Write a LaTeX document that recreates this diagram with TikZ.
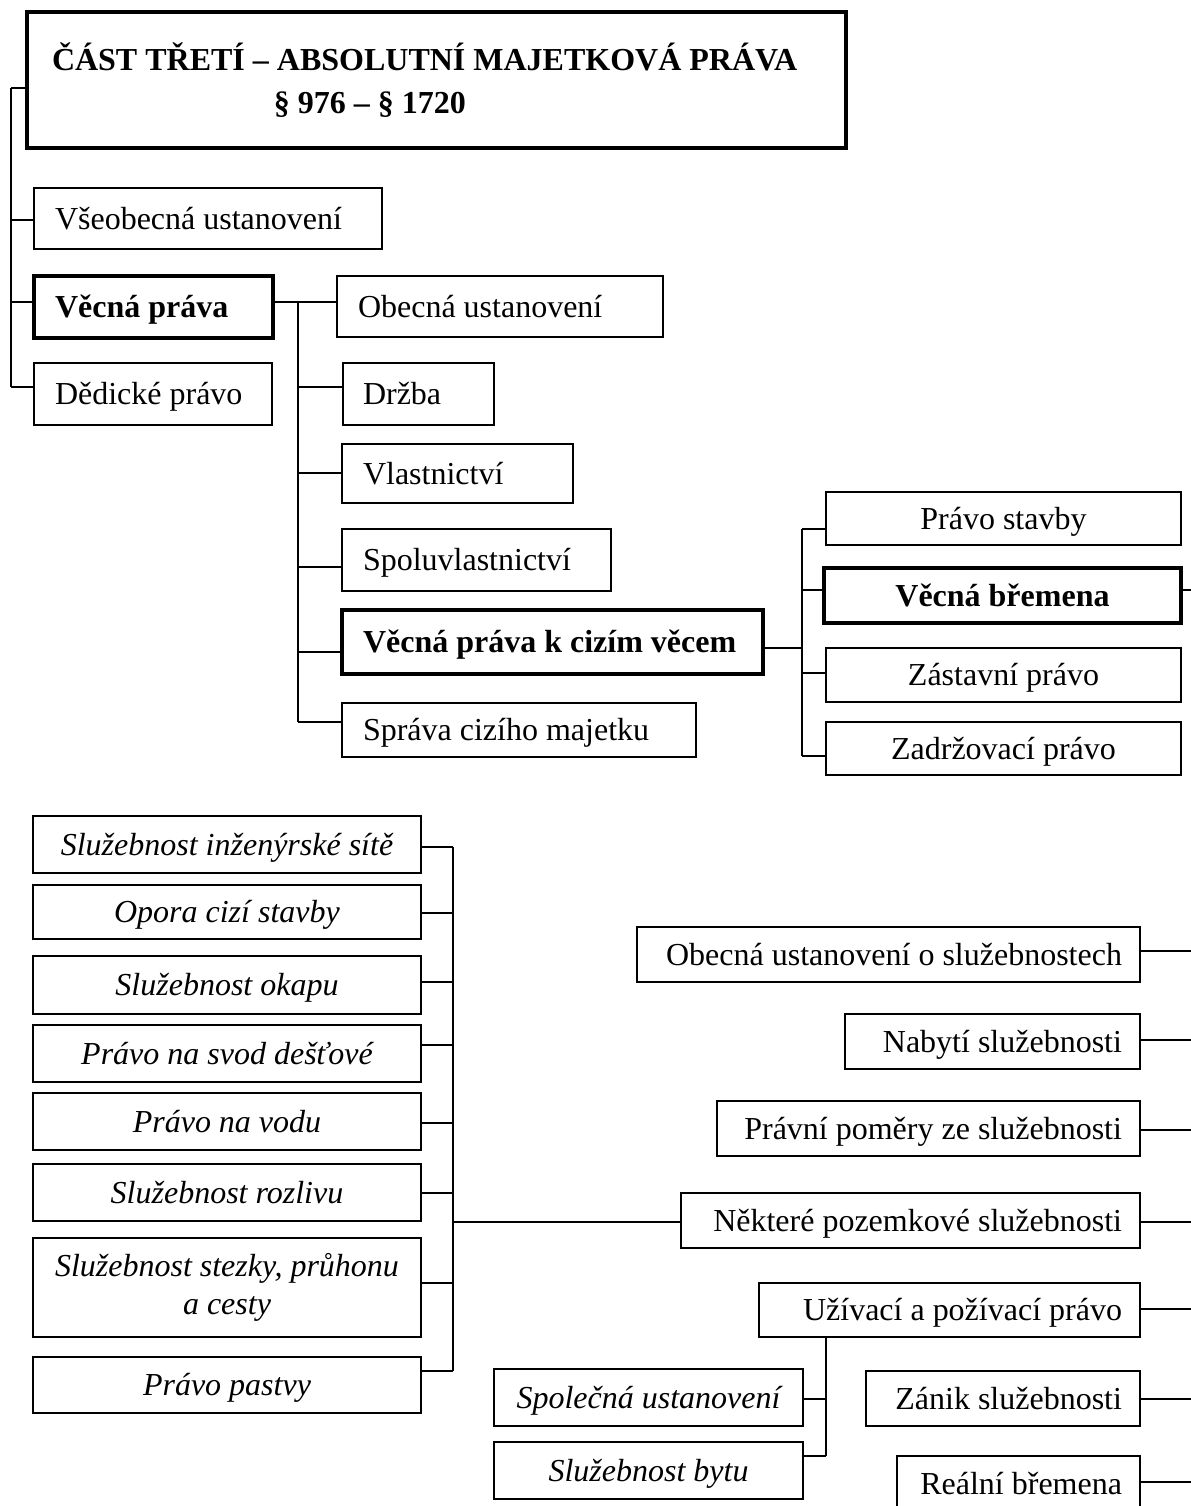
\documentclass[tikz,border=0pt]{standalone}
\usepackage{fontspec}
\setmainfont{Liberation Serif}
\newcommand\mybox[8]{%
  \pgfmathsetmacro\bw{(#4-#2)*0.5}%
  \pgfmathsetmacro\bh{(#5-#3)*0.5}%
  \pgfmathsetmacro\tw{\bw-2*#7}%
  \node[#6, minimum width=\bw pt, minimum height=\bh pt, inner xsep=#7pt, text width=\tw pt] (#1) at ({(#2+#4)/2},{(#3+#5)/2}) {#8};}
\tikzset{
  base/.style={draw, line width=0.85pt, inner ysep=1pt, font=\fontsize{16}{19}\selectfont, text height=14pt, text depth=3.5pt},
  lbox/.style={base, align=flush left},
  cbox/.style={base, align=flush center},
  rbox/.style={base, align=flush right},
  ibox/.style={cbox, font=\fontsize{16}{19}\selectfont\itshape},
  heavy/.style={line width=1.7pt, font=\fontsize{16}{19}\selectfont\bfseries},
  multi/.style={text height={}, text depth={}},
  titlebox/.style={draw, line width=2.2pt, align=flush left, inner ysep=2pt, font=\fontsize{16}{21.5}\selectfont\bfseries},
  wire/.style={line width=0.85pt},
}
\begin{document}
\begin{tikzpicture}[x=0.5pt,y=-0.5pt]
\useasboundingbox (0,0) rectangle (1190,1506);
\fill[white] (0,0) rectangle (1190,1506);

% ---- boxes
\mybox{title}{27}{12}{846}{148}{titlebox}{12.5}{ČÁST TŘETÍ – ABSOLUTNÍ MAJETKOVÁ PRÁVA\\\hspace*{111pt}§ 976 – § 1720}
\mybox{vseob}{34}{188}{382}{249}{lbox}{10.5}{Všeobecná ustanovení}
\mybox{vp}{34}{276}{273}{338}{lbox,heavy}{10.5}{Věcná práva}
\mybox{ded}{34}{363}{272}{425}{lbox}{10.5}{Dědické právo}
\mybox{obec}{337}{276}{663}{337}{lbox}{10.5}{Obecná ustanovení}
\mybox{drz}{343}{363}{494}{425}{lbox}{10}{Držba}
\mybox{vlast}{342}{444}{573}{503}{lbox}{10.5}{Vlastnictví}
\mybox{spol}{342}{529}{611}{591}{lbox}{10.5}{Spoluvlastnictví}
\mybox{vpc}{342}{610}{763}{674}{lbox,heavy}{10.5}{Věcná práva k cizím věcem}
\mybox{spr}{342}{703}{696}{757}{lbox}{10.5}{Správa cizího majetku}
\mybox{pst}{826}{492}{1181}{545}{cbox}{4}{Právo stavby}
\mybox{vb}{824}{568}{1181}{623}{cbox,heavy}{4}{Věcná břemena}
\mybox{zast}{826}{648}{1181}{702}{cbox}{4}{Zástavní právo}
\mybox{zadr}{826}{722}{1181}{775}{cbox}{4}{Zadržovací právo}

\mybox{s1}{33}{816}{421}{873}{ibox}{4}{Služebnost inženýrské sítě}
\mybox{s2}{33}{885}{421}{939}{ibox}{4}{Opora cizí stavby}
\mybox{s3}{33}{956}{421}{1014}{ibox}{4}{Služebnost okapu}
\mybox{s4}{33}{1025}{421}{1082}{ibox}{4}{Právo na svod dešťové}
\mybox{s5}{33}{1093}{421}{1150}{ibox}{4}{Právo na vodu}
\mybox{s6}{33}{1164}{421}{1221}{ibox}{4}{Služebnost rozlivu}
\mybox{s7}{33}{1238}{421}{1337}{ibox,multi}{4}{Služebnost stezky, průhonu\\a cesty}
\mybox{s8}{33}{1357}{421}{1413}{ibox}{4}{Právo pastvy}

\mybox{r1}{637}{927}{1140}{982}{rbox}{9}{Obecná ustanovení o služebnostech}
\mybox{r2}{845}{1014}{1140}{1069}{rbox}{9}{Nabytí služebnosti}
\mybox{r3}{717}{1101}{1140}{1156}{rbox}{9}{Právní poměry ze služebnosti}
\mybox{r4}{681}{1193}{1140}{1248}{rbox}{9}{Některé pozemkové služebnosti}
\mybox{r5}{759}{1283}{1140}{1337}{rbox}{9}{Užívací a požívací právo}
\mybox{r6}{866}{1371}{1140}{1426}{rbox}{9}{Zánik služebnosti}
\mybox{r7}{897}{1456}{1140}{1512}{rbox}{9}{Reální břemena}
\mybox{b1}{494}{1369}{803}{1426}{ibox}{4}{Společná ustanovení}
\mybox{b2}{494}{1442}{803}{1499}{ibox}{4}{Služebnost bytu}

% ---- trunk coordinates
\coordinate (T1) at (11,0);
\coordinate (T2) at (298,0);
\coordinate (T3) at (802,0);
\coordinate (T4) at (453,0);
\coordinate (T5) at (826,0);
\coordinate (E) at (1198,0);

% ---- left tree
\coordinate (ktitle) at ([yshift=-4pt]title.west);
\coordinate (kvseob) at ([yshift=-0.75pt]vseob.west);
\coordinate (kvp) at ([yshift=2.5pt]vp.west);
\coordinate (kded) at ([yshift=3.5pt]ded.west);
\foreach \n in {title,vseob,vp,ded} \draw[wire] (k\n) -- (k\n -| T1);
\draw[wire] (ktitle -| T1) -- (kded -| T1);

% ---- Věcná práva subtree
\coordinate (kvpE) at ([yshift=2.5pt]vp.east);
\coordinate (kobec) at ([yshift=2.25pt]obec.west);
\draw[wire] (kvpE) -- (kobec);
\coordinate (kdrz) at ([yshift=3.5pt]drz.west);
\coordinate (kvlast) at ([yshift=0.25pt]vlast.west);
\coordinate (kspol) at ([yshift=-3.5pt]spol.west);
\coordinate (kvpc) at ([yshift=-5pt]vpc.west);
\coordinate (kspr) at ([yshift=4pt]spr.west);
\foreach \n in {drz,vlast,spol,vpc,spr} \draw[wire] (k\n) -- (k\n -| T2);
\draw[wire] (kvpE -| T2) -- (kspr -| T2);

% ---- Věcná práva k cizím věcem subtree
\coordinate (kvpcE) at ([yshift=-3pt]vpc.east);
\draw[wire] (kvpcE) -- (kvpcE -| T3);
\coordinate (kpst) at ([yshift=-5.25pt]pst.west);
\coordinate (kvb) at ([yshift=2.75pt]vb.west);
\coordinate (kzast) at ([yshift=1pt]zast.west);
\coordinate (kzadr) at ([yshift=-3.75pt]zadr.west);
\foreach \n in {pst,vb,zast,zadr} \draw[wire] (k\n) -- (k\n -| T3);
\draw[wire] (kpst -| T3) -- (kzadr -| T3);
\coordinate (kvbE) at ([yshift=2.75pt]vb.east);
\draw[wire] (kvbE) -- (kvbE -| E);

% ---- pozemkové služebnosti list
\coordinate (ks1) at ([yshift=-1.25pt]s1.east);
\coordinate (ks2) at ([yshift=-0.5pt]s2.east);
\coordinate (ks3) at ([yshift=1.5pt]s3.east);
\coordinate (ks4) at ([yshift=4.25pt]s4.east);
\coordinate (ks5) at ([yshift=-0.75pt]s5.east);
\coordinate (ks6) at ([yshift=-0.25pt]s6.east);
\coordinate (ks7) at ([yshift=2.25pt]s7.east);
\coordinate (ks8) at ([yshift=7pt]s8.east);
\foreach \n in {s1,s2,s3,s4,s5,s6,s7,s8} \draw[wire] (k\n) -- (k\n -| T4);
\draw[wire] (ks1 -| T4) -- (ks8 -| T4);
\coordinate (kr4W) at ([yshift=-0.75pt]r4.west);
\draw[wire] (kr4W) -- (kr4W -| T4);

% ---- right stubs
\coordinate (kr1) at ([yshift=1.75pt]r1.east);
\coordinate (kr2) at ([yshift=0.75pt]r2.east);
\coordinate (kr3) at ([yshift=-0.75pt]r3.east);
\coordinate (kr4) at ([yshift=-0.75pt]r4.east);
\coordinate (kr5) at ([yshift=0.5pt]r5.east);
\coordinate (kr6) at ([yshift=-0.25pt]r6.east);
\coordinate (kr7) at ([yshift=1pt]r7.east);
\foreach \n in {r1,r2,r3,r4,r5,r6,r7} \draw[wire] (k\n) -- (k\n -| E);

% ---- Užívací a požívací právo subtree
\coordinate (kb1) at ([yshift=-0.75pt]b1.east);
\coordinate (kb2) at ([yshift=7.25pt]b2.east);
\draw[wire] (kb1) -- (kb1 -| T5);
\draw[wire] (kb2) -- (kb2 -| T5);
\draw[wire] (r5.south -| T5) -- (kb2 -| T5);
\end{tikzpicture}
\end{document}
